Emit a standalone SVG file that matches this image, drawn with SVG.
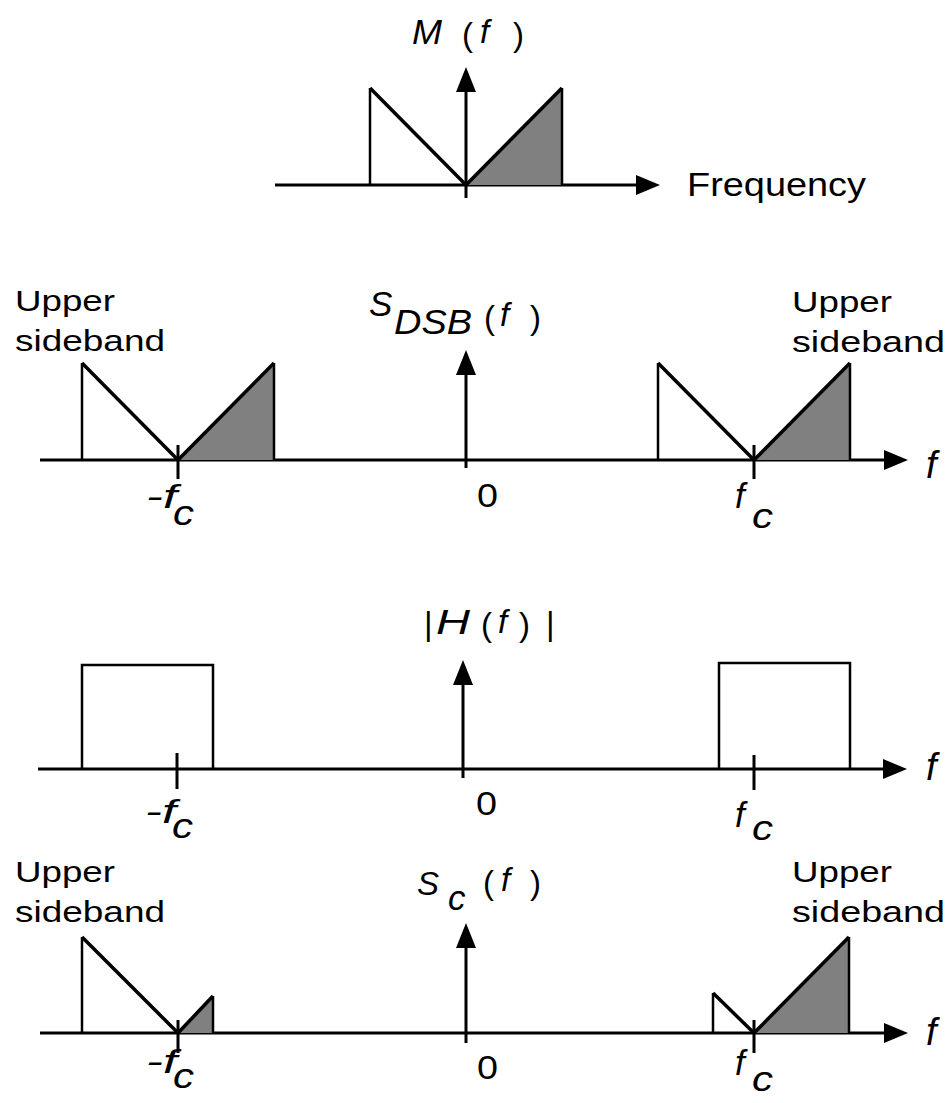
<svg xmlns="http://www.w3.org/2000/svg" width="948" height="1103" viewBox="0 0 948 1103">
<style>
.t{font-family:"Liberation Sans",Arial,sans-serif;font-size:30px;fill:#000}
.i{font-style:italic}
.big{font-size:33px}
.lg{font-size:35px}
.xl{font-size:38px}
.ax{stroke:#000;stroke-width:3;fill:none}
.ln{stroke:#000;stroke-width:2.5;fill:none;stroke-linejoin:miter}
.dg{stroke:#000;stroke-width:3.5;fill:none}
.sh{fill:#808080;stroke:none}
.ah{fill:#000}
</style>
<rect width="948" height="1103" fill="#fff"/>
<g id="connectors">
  <line class="ax" x1="275" y1="185" x2="640" y2="185"/>
  <polygon class="ah" points="660,185 636,175 636,195"/>
  <line class="ax" x1="466" y1="198" x2="466" y2="88"/>
  <polygon class="ah" points="466,67 456,92 476,92"/>
  <line class="ax" x1="40" y1="460" x2="888" y2="460"/>
  <polygon class="ah" points="908,460 884,450 884,470"/>
  <line class="ax" x1="466" y1="468" x2="466" y2="370"/>
  <polygon class="ah" points="466,350 456,375 476,375"/>
  <line class="ax" x1="178" y1="445" x2="178" y2="479"/>
  <line class="ax" x1="754" y1="445" x2="754" y2="479"/>
  <line class="ax" x1="38" y1="769" x2="887" y2="769"/>
  <polygon class="ah" points="907,769 883,759 883,779"/>
  <line class="ax" x1="463" y1="778" x2="463" y2="680"/>
  <polygon class="ah" points="463,660 453,685 473,685"/>
  <line class="ax" x1="177" y1="753" x2="177" y2="789"/>
  <line class="ax" x1="754" y1="755" x2="754" y2="790"/>
  <line class="ax" x1="40" y1="1033" x2="888" y2="1033"/>
  <polygon class="ah" points="908,1033 884,1023 884,1043"/>
  <line class="ax" x1="466" y1="1043" x2="466" y2="943"/>
  <polygon class="ah" points="466,923 456,948 476,948"/>
  <line class="ax" x1="178" y1="1020" x2="178" y2="1053"/>
  <line class="ax" x1="754" y1="1020" x2="754" y2="1053"/>
</g>
<g id="panel1-spectrum">
  <polygon class="sh" points="466,185 562,88 562,185"/>
  <line class="ln" x1="370" y1="185" x2="370" y2="88"/>
  <line class="dg" x1="370" y1="88" x2="466" y2="185"/>
  <line class="dg" x1="466" y1="185" x2="562" y2="88"/>
  <line class="ln" x1="562" y1="88" x2="562" y2="185"/>
</g>
<g id="panel1-labels">
  <text class="t i lg" x="412" y="44" textLength="30" lengthAdjust="spacingAndGlyphs">M</text>
  <text class="t big" x="462" y="46">(</text>
  <text class="t i big" x="480" y="43">f</text>
  <text class="t big" x="513" y="46">)</text>
  <text class="t big" x="687" y="196" textLength="179" lengthAdjust="spacingAndGlyphs">Frequency</text>
</g>
<g id="panel2-left">
  <polygon class="sh" points="178,460 274,363 274,460"/>
  <line class="ln" x1="82" y1="460" x2="82" y2="363"/>
  <line class="dg" x1="82" y1="363" x2="178" y2="460"/>
  <line class="dg" x1="178" y1="460" x2="274" y2="363"/>
  <line class="ln" x1="274" y1="363" x2="274" y2="460"/>
</g>
<g id="panel2-right">
  <polygon class="sh" points="754,460 850,363 850,460"/>
  <line class="ln" x1="658" y1="460" x2="658" y2="363"/>
  <line class="dg" x1="658" y1="363" x2="754" y2="460"/>
  <line class="dg" x1="754" y1="460" x2="850" y2="363"/>
  <line class="ln" x1="850" y1="363" x2="850" y2="460"/>
</g>
<g id="panel2-labels">
  <text class="t" x="15" y="311" textLength="100" lengthAdjust="spacingAndGlyphs">Upper</text>
  <text class="t" x="15" y="351" textLength="150" lengthAdjust="spacingAndGlyphs">sideband</text>
  <text class="t" x="792" y="312" textLength="100" lengthAdjust="spacingAndGlyphs">Upper</text>
  <text class="t" x="792" y="352" textLength="153" lengthAdjust="spacingAndGlyphs">sideband</text>
  <text class="t i lg" x="369" y="316">S</text>
  <text class="t i lg" x="394" y="334" textLength="78" lengthAdjust="spacingAndGlyphs">DSB</text>
  <text class="t big" x="484" y="329">(</text>
  <text class="t i big" x="500" y="326">f</text>
  <text class="t big" x="530" y="329">)</text>
  <text class="t big" x="477" y="507" textLength="21" lengthAdjust="spacingAndGlyphs">0</text>
  <text class="t i big" x="146" y="508" textLength="31" lengthAdjust="spacingAndGlyphs">-f</text>
  <text class="t i lg" x="173" y="525" textLength="21" lengthAdjust="spacingAndGlyphs">c</text>
  <text class="t i lg" x="735" y="508">f</text>
  <text class="t i lg" x="752" y="528" textLength="21" lengthAdjust="spacingAndGlyphs">c</text>
  <text class="t i xl" x="926" y="478">f</text>
</g>
<g id="panel3-filter">
  <polyline class="ln" points="82,769 82,665 213,665 213,769"/>
  <polyline class="ln" points="719,769 719,663 850,663 850,769"/>
</g>
<g id="panel3-labels">
  <text class="t big" x="424" y="635">|</text>
  <text class="t i lg" x="436" y="634" textLength="34" lengthAdjust="spacingAndGlyphs">H</text>
  <text class="t big" x="481" y="636">(</text>
  <text class="t i big" x="498" y="633">f</text>
  <text class="t big" x="519" y="636">)</text>
  <text class="t big" x="546" y="635">|</text>
  <text class="t big" x="476" y="815" textLength="21" lengthAdjust="spacingAndGlyphs">0</text>
  <text class="t i big" x="145" y="823" textLength="31" lengthAdjust="spacingAndGlyphs">-f</text>
  <text class="t i lg" x="172" y="838" textLength="21" lengthAdjust="spacingAndGlyphs">c</text>
  <text class="t i lg" x="735" y="827">f</text>
  <text class="t i lg" x="752" y="840" textLength="21" lengthAdjust="spacingAndGlyphs">c</text>
  <text class="t i xl" x="926" y="780">f</text>
</g>
<g id="panel4-left">
  <polygon class="sh" points="178,1033 213,996 213,1033"/>
  <line class="ln" x1="82" y1="1033" x2="82" y2="937"/>
  <line class="dg" x1="82" y1="937" x2="178" y2="1033"/>
  <line class="dg" x1="178" y1="1033" x2="213" y2="996"/>
  <line class="ln" x1="213" y1="996" x2="213" y2="1033"/>
</g>
<g id="panel4-right">
  <polygon class="sh" points="754,1033 849,937 849,1033"/>
  <line class="ln" x1="713" y1="1033" x2="713" y2="993"/>
  <line class="dg" x1="713" y1="993" x2="754" y2="1033"/>
  <line class="dg" x1="754" y1="1033" x2="849" y2="937"/>
  <line class="ln" x1="849" y1="937" x2="849" y2="1033"/>
</g>
<g id="panel4-labels">
  <text class="t" x="15" y="882" textLength="100" lengthAdjust="spacingAndGlyphs">Upper</text>
  <text class="t" x="15" y="922" textLength="150" lengthAdjust="spacingAndGlyphs">sideband</text>
  <text class="t" x="792" y="882" textLength="100" lengthAdjust="spacingAndGlyphs">Upper</text>
  <text class="t" x="792" y="922" textLength="153" lengthAdjust="spacingAndGlyphs">sideband</text>
  <text class="t i big" x="417" y="895">S</text>
  <text class="t i lg" x="448" y="910">c</text>
  <text class="t big" x="483" y="894">(</text>
  <text class="t i big" x="501" y="891">f</text>
  <text class="t big" x="530" y="894">)</text>
  <text class="t big" x="477" y="1079" textLength="21" lengthAdjust="spacingAndGlyphs">0</text>
  <text class="t i big" x="146" y="1073" textLength="31" lengthAdjust="spacingAndGlyphs">-f</text>
  <text class="t i lg" x="173" y="1088" textLength="21" lengthAdjust="spacingAndGlyphs">c</text>
  <text class="t i lg" x="735" y="1075">f</text>
  <text class="t i lg" x="752" y="1091" textLength="21" lengthAdjust="spacingAndGlyphs">c</text>
  <text class="t i xl" x="926" y="1045">f</text>
</g>
</svg>
